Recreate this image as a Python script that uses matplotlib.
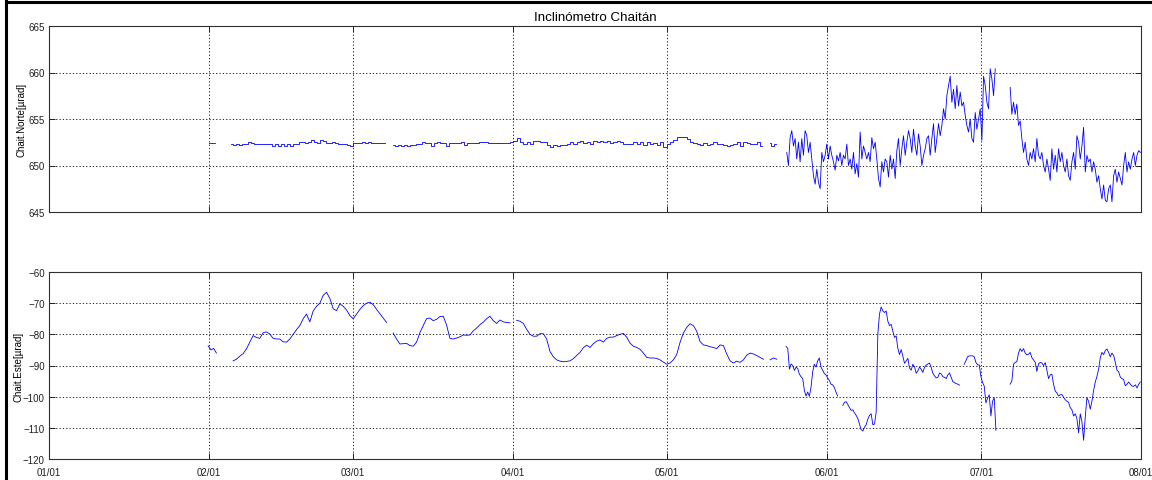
import numpy as np
import matplotlib
matplotlib.use("Agg")
import matplotlib.pyplot as plt
from matplotlib.lines import Line2D

plt.rcParams['font.family'] = ['Liberation Sans', 'DejaVu Sans']

# ---- time axis (day of year, month starts) ----
month_days = [0, 31, 59, 90, 120, 151, 181, 212]
month_labels = ["01/01", "02/01", "03/01", "04/01", "05/01", "06/01", "07/01", "08/01"]

# ---- North component [µrad]; each block: (first day, last day) + evenly sampled values ----
norte_1_span = (31.0, 32.3)
norte_1 = [652.4, 652.4]

norte_2_span = (35.43, 65.15)
norte_2 = [652.35, 652.2, 652.35, 652.2, 652.35, 652.35, 652.55, 652.4, 652.35, 652.35,
           652.35, 652.35, 652.35, 652.35, 652.15, 652.35, 652.15, 652.35, 652.15, 652.35,
           652.15, 652.35, 652.35, 652.55, 652.55, 652.45, 652.5, 652.75, 652.5, 652.45,
           652.7, 652.65, 652.45, 652.45, 652.5, 652.45, 652.35, 652.35, 652.35, 652.2,
           652.15, 652.4, 652.4, 652.45, 652.55, 652.45, 652.55, 652.45, 652.45, 652.45,
           652.45, 652.4]

norte_3_span = (66.82, 87.22)
norte_3 = [652.2, 652.15, 652.25, 652.15, 652.25, 652.15, 652.25, 652.2, 652.35, 652.35,
           652.55, 652.4, 652.4, 652.15, 652.4, 652.55, 652.45, 652.4, 652.15, 652.4,
           652.4, 652.4, 652.4, 652.55, 652.2, 652.4, 652.4, 652.4, 652.4, 652.5,
           652.5, 652.5, 652.45, 652.4, 652.4, 652.42]

norte_4_span = (87.22, 138.39)
norte_4 = [652.42, 652.42, 652.42, 652.42, 652.56, 652.67, 653.0, 652.5, 652.31, 652.56,
           652.31, 652.67, 652.67, 652.56, 652.49, 652.2, 651.95, 652.2, 652.13, 652.2,
           652.2, 652.31, 652.56, 652.31, 652.56, 652.67, 652.42, 652.56, 652.31, 652.67,
           652.56, 652.67, 652.49, 652.67, 652.42, 652.56, 652.67, 652.56, 652.31, 652.31,
           652.31, 652.49, 652.31, 652.49, 652.2, 652.49, 652.31, 652.42, 652.2, 652.49,
           651.95, 652.31, 652.49, 652.78, 653.03, 653.03, 653.03, 652.85, 652.56, 652.42,
           652.31, 652.2, 652.42, 652.2, 652.31, 652.49, 652.31, 652.31, 652.2, 652.13,
           652.2, 652.31, 652.49, 652.13, 652.49, 652.42, 652.31, 652.31, 652.49, 652.13]

norte_5_span = (139.97, 141.1)
norte_5 = [652.4, 652.1, 652.3]

norte_6_span = (143.23, 183.70)
norte_6 = [651.4, 650.0, 653.0, 653.75, 652.1, 652.9, 650.7, 652.5, 650.4, 652.9,
           651.1, 653.75, 653.2, 651.4, 652.5, 650.7, 648.9, 648.0, 649.6, 648.2,
           647.5, 651.4, 650.4, 651.1, 652.3, 650.7, 652.1, 651.1, 650.4, 649.5,
           651.1, 650.5, 651.4, 650.0, 651.1, 650.7, 652.3, 650.0, 650.7, 649.6,
           651.4, 649.1, 650.2, 648.75, 653.6, 650.7, 652.1, 651.4, 650.7, 651.4,
           650.4, 653.0, 651.8, 652.5, 650.7, 648.6, 647.7, 650.4, 649.3, 650.7,
           650.4, 648.75, 651.1, 649.6, 650.7, 648.6, 651.6, 652.9, 650.0, 651.8,
           653.2, 651.1, 652.5, 653.75, 652.9, 651.4, 653.9, 652.1, 651.1, 653.4,
           652.1, 650.0, 651.1, 651.8, 652.9, 653.2, 651.1, 652.9, 654.5, 651.4,
           652.9, 654.5, 653.2, 654.3, 656.1, 655.0, 657.5, 658.6, 659.6, 656.8,
           658.2, 656.1, 658.6, 656.4,
           657.9, 656.4, 656.8, 655.4, 654.3, 653.6, 655.0, 652.9, 652.5, 655.7,
           653.9, 655.0, 656.1, 652.7, 659.6, 658.6, 656.8, 656.1, 660.4, 659.3,
           657.5, 660.4]

norte_7_span = (186.6, 211.87)
norte_7 = [658.4, 655.5, 656.8, 655.5, 656.6, 654.3, 654.8, 652.9, 651.4, 652.5,
           650.7, 650.0, 651.4, 650.7, 651.8, 650.4, 652.9, 651.1, 650.7, 651.4,
           650.0, 649.3, 650.7, 649.6, 648.4, 651.8, 649.6, 651.1, 649.3, 651.8,
           650.4, 651.4, 650.0, 649.3, 650.7, 648.9, 648.4, 650.4, 651.4, 649.6,
           653.2, 652.5, 650.7, 652.1, 654.1, 649.3, 651.1, 650.4, 650.7, 649.3,
           650.4, 649.6, 648.2, 648.9, 647.5, 646.4, 647.9, 646.25, 646.1, 647.5,
           647.9, 646.1, 648.9, 649.6, 648.2, 649.3, 648.6, 647.9, 650.0, 651.4,
           649.3, 650.4, 649.6, 650.7, 651.4, 650.0, 651.1, 651.6, 651.4]

# ---- East component [µrad] ----
este_1_span = (30.9, 32.5)
este_1 = [-83.7, -85.0, -84.5, -86.0]

este_2_span = (35.74, 65.54)
este_2 = [-88.5, -88.0, -87.0, -86.2, -84.7, -82.5, -80.4, -81.0, -81.3, -79.5,
          -79.2, -79.9, -81.3, -81.5, -81.5, -82.4, -82.5, -81.5, -80.0, -78.5,
          -77.2, -75.0, -73.5, -76.0, -72.5, -71.0, -70.0, -67.5, -66.5, -68.5,
          -71.8, -72.4, -70.2, -71.0, -72.2, -74.0, -75.0, -73.5, -72.0, -70.8,
          -70.0, -69.7, -70.5, -72.0, -73.4, -74.8, -76.2]

este_3_span = (66.82, 89.49)
este_3 = [-79.6, -81.5, -83.1, -83.0, -82.9, -83.6, -83.8, -82.5, -79.5, -77.2,
          -75.0, -74.8, -75.6, -75.2, -74.3, -74.2, -77.0, -81.3, -81.5, -81.2,
          -80.8, -80.2, -80.3, -80.2, -78.9, -78.0, -76.9, -76.1, -75.0, -74.2,
          -75.6, -76.5, -75.4, -76.0, -76.2, -76.3]

este_4_span = (90.79, 138.69)
este_4 = [-75.5, -75.8, -76.5, -78.4, -80.0, -80.6, -80.6, -79.8, -79.8, -81.5,
          -85.5, -87.2, -88.2, -88.6, -88.8, -88.7, -88.5, -87.8, -86.8, -85.8,
          -84.3, -83.5, -84.2, -83.0, -82.2, -81.8, -82.5, -81.3, -80.9, -80.9,
          -80.4, -80.0, -79.7, -80.9, -82.8, -83.8, -84.2, -84.8, -86.0, -87.4,
          -87.6, -87.6, -87.7, -88.2, -88.9, -89.6, -89.2, -88.2, -86.5, -82.6,
          -79.6, -77.8, -76.6, -77.2, -79.0, -82.3, -83.4, -83.6, -84.0, -84.2,
          -84.6, -83.4, -83.6, -86.3, -88.5, -89.2, -88.6, -89.0, -88.2, -86.7,
          -86.0, -86.3, -86.8, -87.4, -88.0]

este_5_span = (139.99, 141.3)
este_5 = [-88.2, -87.6, -88.0]

este_6_span = (143.1, 153.1)
este_6 = [-83.9, -84.5, -91.2, -89.5, -90.0, -91.6, -90.5, -91.0, -92.8, -93.6,
          -94.2, -98.0, -99.8, -98.5, -99.9, -97.0, -92.0, -89.6, -90.5, -88.5,
          -87.6, -90.5, -91.5, -92.6, -93.0, -94.0, -94.8, -96.0, -96.2, -97.0,
          -98.5, -99.8]

este_7_span = (154.11, 176.77)
este_7 = [-102.8, -101.8, -101.6, -102.5, -103.5, -104.4, -104.2, -105.2, -106.0, -107.0,
          -108.8, -110.6, -111.0, -109.8, -109.0, -107.2, -106.0, -105.5, -109.0, -108.8,
          -105.0, -80.0, -73.5, -71.2, -72.5, -73.0, -72.5, -75.8, -77.2, -76.8,
          -79.0, -81.0, -80.5, -84.5, -86.5, -84.9, -87.0, -89.3, -88.5, -87.7,
          -90.8, -91.5, -89.6, -90.4, -92.5, -91.7, -90.5, -91.2, -92.2, -90.6,
          -89.9, -89.5, -89.2, -90.6, -92.5, -93.3, -94.0, -93.8, -92.4, -92.7,
          -93.6, -93.8, -94.2, -93.0, -92.4, -93.8, -95.2, -95.5, -95.8, -96.0,
          -96.3]

este_8_span = (177.68, 183.83)
este_8 = [-89.6, -88.5, -87.2, -86.9, -86.9, -86.9, -87.2, -89.0, -89.8, -89.8,
          -93.5, -95.5, -96.6, -102.0, -100.5, -99.4, -106.2, -101.5, -100.3, -110.8]

este_9_span = (186.6, 211.87)
este_9 = [-96.0, -95.0, -89.6, -89.0, -88.8, -86.0, -84.6, -85.5, -84.6, -86.0,
          -86.6, -86.4, -85.8, -87.5, -88.2, -89.0, -91.9, -89.5, -89.0, -89.2,
          -90.0, -89.1, -91.5, -94.2, -93.0, -92.8, -96.0, -98.2, -98.8, -99.8,
          -99.4, -99.3, -100.2, -101.0, -101.5, -101.8, -103.5, -104.2, -106.2, -105.5,
          -107.0, -111.6, -105.5, -108.0, -114.0, -106.5, -100.3, -101.5, -104.0, -101.5,
          -98.0, -95.3, -93.5, -91.2, -87.5, -85.8, -86.5, -85.2, -84.7, -85.8,
          -87.2, -86.0, -86.7, -89.0, -91.5, -92.0, -93.7, -94.2, -94.5, -96.5,
          -96.0, -95.3, -96.0, -96.6, -96.7, -96.2, -97.2, -96.0, -95.3]

# quiet (quantised) blocks are drawn as steps, active ones as plain lines
norte_blocks = [(norte_1_span, norte_1, "steps-mid"), (norte_2_span, norte_2, "steps-mid"),
                (norte_3_span, norte_3, "steps-mid"), (norte_4_span, norte_4, "steps-mid"),
                (norte_5_span, norte_5, "steps-mid"), (norte_6_span, norte_6, "default"),
                (norte_7_span, norte_7, "default")]
este_blocks = [(este_1_span, este_1, "default"), (este_2_span, este_2, "default"),
               (este_3_span, este_3, "default"), (este_4_span, este_4, "default"),
               (este_5_span, este_5, "default"), (este_6_span, este_6, "default"),
               (este_7_span, este_7, "default"), (este_8_span, este_8, "default"),
               (este_9_span, este_9, "default")]

LINE_BLUE = "#0000ff"
W, H = 1152, 481
fig = plt.figure(figsize=(W / 100, H / 100), dpi=100)
fig.patch.set_facecolor("white")


def px_box(left, top, right, bottom):
    return [left / W, 1 - bottom / H, (right - left) / W, (bottom - top) / H]


ax_n = fig.add_axes(px_box(49, 27, 1141, 213))
ax_e = fig.add_axes(px_box(49, 273, 1141, 460))


def style_axis(ax, ylim, yticks, ylabel, label_x, show_x):
    ax.set_xlim(month_days[0], month_days[-1])
    ax.set_ylim(*ylim)
    ax.set_yticks(yticks)
    ax.set_xticks(month_days)
    if show_x:
        ax.set_xticklabels(month_labels)
    else:
        ax.set_xticklabels([])
    ax.tick_params(direction="in", top=True, right=True, length=4, width=0.7,
                   labelsize=7, colors="#202020")
    ax.tick_params(axis="y", pad=3)
    ax.tick_params(axis="x", pad=6)
    ax.grid(True, color="black", linestyle=(0, (1.5, 2.5)), linewidth=0.6)
    for s in ax.spines.values():
        s.set_color("#303030")
        s.set_linewidth(0.8)
    ax.set_ylabel(ylabel, fontsize=7)
    ax.yaxis.set_label_coords(label_x, 0.5)


for ax, blocks in ((ax_n, norte_blocks), (ax_e, este_blocks)):
    for (d0, d1), vals, style in blocks:
        x = np.linspace(d0, d1, len(vals))
        ax.plot(x, vals, color=LINE_BLUE, linewidth=0.6, drawstyle=style, antialiased=True)

style_axis(ax_n, (645, 665), [645, 650, 655, 660, 665], "Chait.Norte[µrad]", -0.0206, False)
style_axis(ax_e, (-120, -60), [-120, -110, -100, -90, -80, -70, -60], "Chait.Este[µrad]", -0.0238, True)

ax_n.set_title("Inclinómetro Chaitán", fontsize=9.6, pad=4)

# outer frame (left and top edges)
for xs, ys in (([5.5, 5.5], [2, H]), ([5.5, W], [3, 3])):
    fig.add_artist(Line2D([v / W for v in xs], [1 - v / H for v in ys],
                          color="black", linewidth=2.2, transform=fig.transFigure))

fig.savefig("out.png", dpi=100)
